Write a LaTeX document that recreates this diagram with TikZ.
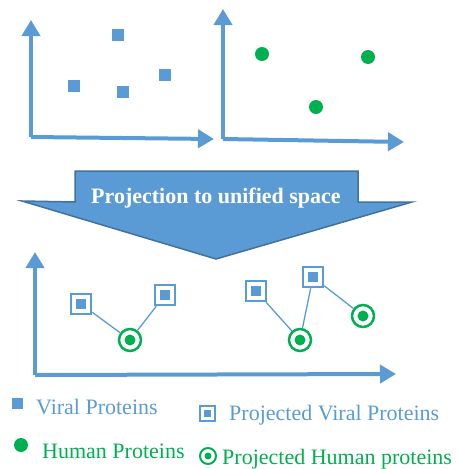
\documentclass[tikz,border=0pt]{standalone}
\usepackage{fontspec}
\setmainfont{Liberation Serif}
\usetikzlibrary{arrows.meta}
\definecolor{vblue}{HTML}{5B9BD5}
\definecolor{vdark}{HTML}{41719C}
\definecolor{hgreen}{HTML}{00B050}
\begin{document}
\begin{tikzpicture}
  [x=1pt,y=-1pt,
   axis/.style={vblue,line width=4pt,-{Triangle[length=16pt,width=18pt]}},
   viral/.style={rectangle,fill=vblue,inner sep=0pt,minimum size=12pt},
   human/.style={circle,fill=hgreen,inner sep=0pt,minimum size=14pt},
   projv/.style={rectangle,draw=vblue,line width=2.5pt,fill=white,inner sep=0pt,minimum size=20pt,
     path picture={\fill[vblue] (path picture bounding box.center) ++(-5pt,-5pt) rectangle ++(10pt,10pt);}},
   projh/.style={circle,draw=hgreen,line width=2.5pt,fill=white,inner sep=0pt,minimum size=22pt,
     path picture={\fill[hgreen] (path picture bounding box.center) circle (5.5pt);}},
   link/.style={vblue,line width=1.3pt},
   legend/.style={anchor=base west,inner sep=0pt,font=\fontsize{22}{26}\selectfont}]
  \useasboundingbox (0,0) rectangle (459,469);
  % top left: viral proteins
  \coordinate (o1) at (31,137);
  \coordinate (y1) at (31,20);
  \coordinate (x1) at (214,139);
  \draw[axis] (o1) -- (y1);
  \draw[axis] (o1) -- (x1);
  \node[viral] (v1) at (118,35) {};
  \node[viral] (v2) at (74,86) {};
  \node[viral] (v3) at (123,92) {};
  \node[viral] (v4) at (165,75) {};
  % top right: human proteins
  \coordinate (o2) at (223,139);
  \coordinate (y2) at (223,9);
  \coordinate (x2) at (404,142);
  \draw[axis] (o2) -- (y2);
  \draw[axis] (o2) -- (x2);
  \node[human] (h1) at (262,54) {};
  \node[human] (h2) at (368,57) {};
  \node[human] (h3) at (316,107) {};
  % projection arrow
  \filldraw[fill=vblue,draw=vdark,line width=1.5pt,line join=miter]
    (75,171) -- (358,171) -- (358,202) -- (412,202) -- (216,259) -- (22,201) -- (75,202) -- cycle;
  \node[white,font=\bfseries\fontsize{22}{26}\selectfont] (title) at (216,198) {Projection to unified space};
  % bottom: unified space
  \coordinate (o3) at (35,375);
  \coordinate (y3) at (35,252);
  \coordinate (x3) at (396,374);
  \draw[axis] (o3) -- (y3);
  \draw[axis] (o3) -- (x3);
  \node[projv] (p1) at (81,304) {};
  \node[projv] (p2) at (165,295) {};
  \node[projv] (p3) at (256,291) {};
  \node[projv] (p4) at (313,277) {};
  \node[projh] (q1) at (130,340) {};
  \node[projh] (q2) at (300,340) {};
  \node[projh] (q3) at (363,316) {};
  \foreach \from/\to in {p1/q1,p2/q1,p3/q2,p4/q2,p4/q3}
    \draw[link] (\from) -- (\to);
  % legend
  \node[viral,minimum size=11pt] (lv) at (17,403) {};
  \node[legend,vblue] (tv) at (36,414) {Viral Proteins};
  \node[projv,minimum size=15pt,line width=2pt,
    path picture={\fill[vblue] (path picture bounding box.center) ++(-3.5pt,-3.5pt) rectangle ++(7pt,7pt);}] (lp) at (207,413) {};
  \node[legend,vblue] (tp) at (229,420) {Projected Viral Proteins};
  \node[human] (lh) at (21,445) {};
  \node[legend,hgreen] (th) at (42,458) {Human Proteins};
  \node[projh,minimum size=16pt,line width=2pt,
    path picture={\fill[hgreen] (path picture bounding box.center) circle (3.5pt);}] (lq) at (208,456) {};
  \node[legend,hgreen] (tq) at (222,464) {Projected Human proteins};
\end{tikzpicture}
\end{document}
